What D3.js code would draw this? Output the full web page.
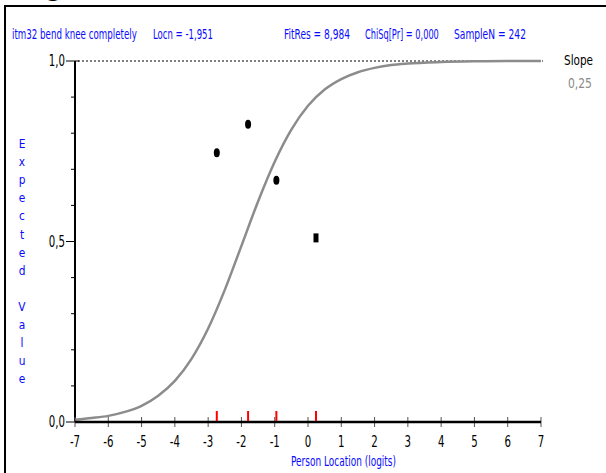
<!DOCTYPE html>
<html>
<head>
<meta charset="utf-8">
<script src="https://cdn.jsdelivr.net/npm/d3@7"></script>
<style>
  body { margin: 0; background: #fff; }
  svg text { font-family: "Liberation Sans Narrow", "Arial Narrow", "DejaVu Sans", sans-serif; }
</style>
</head>
<body>
<div id="chart"></div>
<script>
// item header
var headerTexts = ['itm32  bend knee completely', 'Locn = -1,951', 'FitRes = 8,984', 'ChiSq[Pr] = 0,000', 'SampleN = 242'];
var headerX = [12, 153, 284, 365, 454];
var headerW = [125, 60, 66, 74, 72];

var slopeLabel = 'Slope';
var slopeValue = '0,25';

// expected value curve
var curveLoc = [-7, -6.5, -6, -5.5, -5, -4.5, -4, -3.5, -3, -2.5, -2, -1.5, -1, -0.5, 0, 0.5, 1, 1.5, 2, 2.5, 3, 4, 5, 6, 7];
var curveVal = [0.006, 0.011, 0.017, 0.028, 0.045, 0.073, 0.114, 0.175, 0.259, 0.366, 0.488, 0.611, 0.721, 0.810, 0.876, 0.921, 0.950, 0.969, 0.981, 0.989, 0.993, 0.997, 0.999, 1.0, 1.0];

// observed class means
var obsLoc = [-2.74, -1.80, -0.95, 0.24];
var obsVal = [0.746, 0.825, 0.670, 0.510];
var obsShape = ['dot', 'dot', 'dot', 'square'];

var xTicks = [-7, -6, -5, -4, -3, -2, -1, 0, 1, 2, 3, 4, 5, 6, 7];
var yMajor = [0, 0.5, 1];
var yMinor = [0.1, 0.2, 0.3, 0.4, 0.6, 0.7, 0.8, 0.9];
var yTitle = 'Expected Value';
var xTitle = 'Person Location (logits)';

var width = 606, height = 473;
var blue = '#0a0aff';

var svg = d3.select('#chart').append('svg')
    .attr('width', width)
    .attr('height', height);

// condensed text: squeeze horizontally, either to a given width or by a factor
function narrowText(parent, px, py, str, size, fill, opts) {
    opts = opts || {};
    var t = parent.append('text')
        .attr('font-size', size)
        .attr('fill', fill)
        .attr('text-anchor', opts.anchor || 'start')
        .text(str);
    var sx = opts.scale || 0.72;
    if (opts.width) sx = opts.width / t.node().getComputedTextLength();
    t.attr('transform', 'translate(' + px + ',' + py + ') scale(' + sx + ',1)');
    return t;
}

// frame
svg.append('rect')
    .attr('x', 5).attr('y', 6)
    .attr('width', 700).attr('height', 600)
    .attr('fill', 'none')
    .attr('stroke', '#000')
    .attr('stroke-width', 2);

// clipped heading glyph at very top
svg.append('text')
    .attr('x', 46).attr('y', -3)
    .attr('font-size', 22)
    .attr('font-weight', 'bold')
    .attr('fill', '#000')
    .text('g');

var x = d3.scaleLinear().domain([-7, 7]).range([75, 541]);
var y = d3.scaleLinear().domain([0, 1]).range([422, 61]);

// header
headerTexts.forEach(function (d, i) {
    narrowText(svg, headerX[i], 39, d, 14.5, blue, {width: headerW[i]});
});
narrowText(svg, 564, 65, slopeLabel, 14.5, '#000', {width: 29});
narrowText(svg, 568, 88, slopeValue, 14.5, '#8a8a8a', {width: 24});

// dotted line at 1,0
svg.append('line')
    .attr('x1', x(-7) + 3).attr('x2', x(7) + 2)
    .attr('y1', y(1)).attr('y2', y(1))
    .attr('stroke', '#000')
    .attr('stroke-width', 1)
    .attr('stroke-dasharray', '2,2');

// y axis
var yAxis = svg.append('g').attr('transform', 'translate(' + x(-7) + ',0)');
yAxis.append('line')
    .attr('y1', y(1)).attr('y2', y(0))
    .attr('stroke', '#000').attr('stroke-width', 2);
yAxis.selectAll('.minor')
    .data(yMinor)
    .enter()
    .append('line')
    .attr('x1', -4).attr('x2', 0)
    .attr('y1', function (d) { return y(d); })
    .attr('y2', function (d) { return y(d); })
    .attr('stroke', '#000').attr('stroke-width', 1);
yAxis.selectAll('.major')
    .data(yMajor)
    .enter()
    .append('line')
    .attr('x1', -9).attr('x2', function (d) { return d == 1 ? 4 : 0; })
    .attr('y1', function (d) { return y(d); })
    .attr('y2', function (d) { return y(d); })
    .attr('stroke', '#000').attr('stroke-width', 1);
yMajor.forEach(function (d) {
    narrowText(yAxis, -10, y(d) + 5, d3.format('.1f')(d).replace('.', ','), 15, '#000', {anchor: 'end', scale: 0.68});
});

// y title, stacked letters
yTitle.split('').forEach(function (d, i) {
    narrowText(svg, 22, 148 + i * 18.1, d, 12.5, blue, {anchor: 'middle', scale: 0.85});
});

// curve
var line = d3.line()
    .x(function (d, i) { return x(curveLoc[i]); })
    .y(function (d) { return y(d); })
    .curve(d3.curveMonotoneX);
svg.append('path')
    .datum(curveVal)
    .attr('d', line)
    .attr('fill', 'none')
    .attr('stroke', '#8c8c8c')
    .attr('stroke-width', 2.5);

// x axis
var xAxis = svg.append('g');
xAxis.selectAll('.xt')
    .data(xTicks)
    .enter()
    .append('line')
    .attr('x1', function (d) { return x(d); })
    .attr('x2', function (d) { return x(d); })
    .attr('y1', y(0) - 5).attr('y2', y(0) + 5)
    .attr('stroke', '#555').attr('stroke-width', 1);
xAxis.append('line')
    .attr('x1', x(-7)).attr('x2', x(7))
    .attr('y1', y(0)).attr('y2', y(0))
    .attr('stroke', '#000').attr('stroke-width', 2.5);
xTicks.forEach(function (d) {
    narrowText(xAxis, x(d), y(0) + 25, String(d), 15, '#000', {anchor: 'middle', scale: 0.68});
});

narrowText(svg, 291, 466, xTitle, 14, blue, {width: 105});

// class interval markers on the axis
svg.selectAll('.ci')
    .data(obsLoc)
    .enter()
    .append('line')
    .attr('x1', function (d) { return x(d); })
    .attr('x2', function (d) { return x(d); })
    .attr('y1', y(0) - 11).attr('y2', y(0) - 1)
    .attr('stroke', '#ff0000').attr('stroke-width', 2);

// observed points
svg.selectAll('.obs')
    .data(obsVal)
    .enter()
    .append('path')
    .attr('d', function (d, i) {
        var cx = x(obsLoc[i]), cy = y(d);
        if (obsShape[i] == 'square') {
            return 'M' + (cx - 2.5) + ',' + (cy - 4.5) + 'h5v9h-5z';
        }
        return 'M' + (cx - 3) + ',' + cy + 'a3,4.5 0 1,0 6,0a3,4.5 0 1,0 -6,0z';
    })
    .attr('fill', '#000');
</script>
</body>
</html>
